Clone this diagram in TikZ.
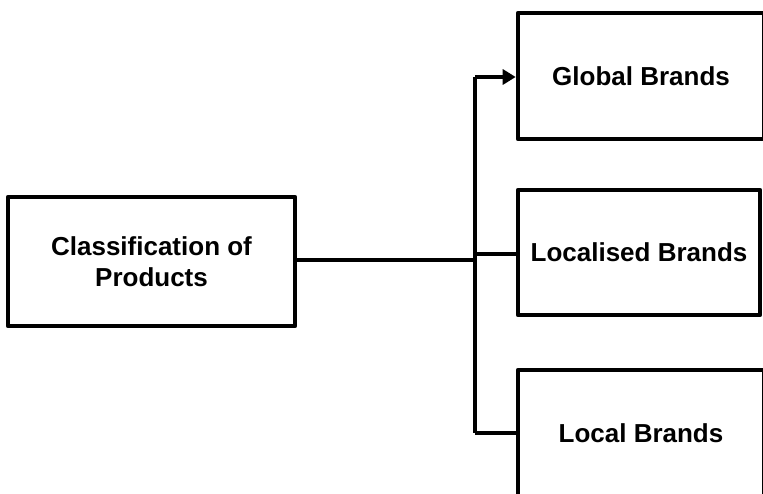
\documentclass[tikz,border=0pt]{standalone}
\usepackage{fontspec}
\setmainfont{Liberation Sans}
\usetikzlibrary{arrows.meta}
\begin{document}
\begin{tikzpicture}[x=1pt,y=-1pt,
  box/.style={draw=black, line width=4.6pt, line join=round, fill=white,
    inner sep=0pt, align=center, font=\fontsize{26}{30.5}\selectfont\bfseries},
  link/.style={draw=black, line width=4.6pt, line join=miter},
  tip/.style={-{Triangle[length=13pt,width=15pt]}}]
\useasboundingbox (0,0) rectangle (763,493);
\clip (0,0) rectangle (763,493);

% main category
\node[box, minimum width=287pt, minimum height=129pt] (class) at (151.5,261.5)
  {Classification of\\Products};

% sub categories (right edges run off the page)
\node[box, minimum width=246pt, minimum height=126pt] (global) at (641,76) {Global Brands};
\node[box, minimum width=242pt, minimum height=125pt] (localised) at (639,252.5) {Localised Brands};
\node[box, minimum width=246pt, minimum height=126pt] (local) at (641,433) {Local Brands};

% trunk and branches
\coordinate (top) at (475,77);
\coordinate (bot) at (475,433);
\draw[link] (class.east |- 0,260) -- (475,260);
\draw[link] (top) -- (bot);
\draw[link, tip] (top) -- (global.west |- top);
\draw[link] (475,254) -- (localised.west |- 0,254);
\draw[link] (bot) -- (local.west |- bot);
\end{tikzpicture}
\end{document}
